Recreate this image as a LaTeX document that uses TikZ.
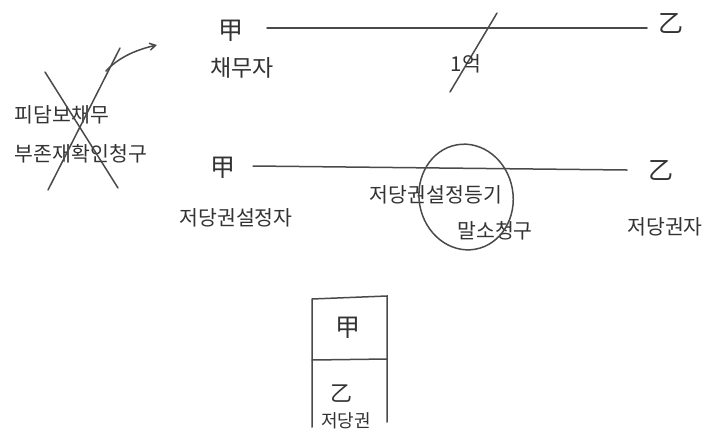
\documentclass[tikz,border=0pt]{standalone}
\usepackage{fontspec}
\setmainfont{Noto Sans CJK KR}
\usetikzlibrary{arrows.meta}
\definecolor{ink}{HTML}{333333}
\definecolor{pen}{HTML}{4A4A4A}
\tikzset{
  kor/.style={text=ink, inner sep=0pt, font=\fontsize{20.5}{22}\selectfont},
  han/.style={text=ink, inner sep=0pt, font=\fontsize{25}{27}\selectfont},
  stroke/.style={draw=pen, line width=1.5pt, line cap=round},
}
\begin{document}
\begin{tikzpicture}[x=1pt,y=-1pt]
\useasboundingbox (0,0) rectangle (717,437);
% top relation
\node[han] (gap1) at (231,31) {甲};
\node[kor,font=\fontsize{23}{24}\selectfont] (debtor) at (242,68) {채무자};
\node[han] (eul1) at (671,23) {乙};
\coordinate (l1s) at (267,28);
\coordinate (l1e) at (647,28);
\draw[stroke] (l1s) -- (l1e);
\coordinate (s1) at (497,13);
\coordinate (s2) at (450,92);
\draw[stroke] (s1) -- (s2);
\node[kor] (amt) at (466,64) {1억};
% crossed-out claim
\node[kor] (c1) at (62,115) {피담보채무};
\node[kor] (c2) at (81,154) {부존재확인청구};
\coordinate (x1a) at (45,72);
\coordinate (x1b) at (118,188);
\coordinate (x2a) at (48,190);
\coordinate (x2b) at (120,48);
\draw[stroke] (x1a) -- (x1b);
\draw[stroke] (x2a) -- (x2b);
\coordinate (ar1) at (106,71);
\coordinate (ar2) at (157,45);
\draw[stroke,-{Straight Barb[length=6pt,width=7pt]}] (ar1) .. controls (118,58) and (135,50) .. (ar2);
% lower relation
\node[han] (gap2) at (223,168) {甲};
\node[kor] (mortgagor) at (236,218) {저당권설정자};
\node[han] (eul2) at (661,170) {乙};
\node[kor] (mortgagee) at (665,227) {저당권자};
\coordinate (l2s) at (253,166);
\coordinate (l2e) at (627,170);
\draw[stroke] (l2s) -- (l2e);
\node[kor] (reg) at (436,195) {저당권설정등기};
\node[kor] (cancel) at (495,231) {말소청구};
\coordinate (ec) at (466,197);
\draw[stroke, rotate around={10:(ec)}] (ec) ellipse [x radius=47, y radius=53];
% box
\coordinate (b1) at (312,299);
\coordinate (b2) at (387,296);
\coordinate (b3) at (387,422);
\coordinate (b4) at (312,427);
\coordinate (m1) at (312,360);
\coordinate (m2) at (387,359);
\draw[stroke] (b4) -- (b1) -- (b2) -- (b3);
\draw[stroke] (m1) -- (m2);
\node[han] (bgap) at (348,328) {甲};
\node[han,font=\fontsize{22}{24}\selectfont] (beul) at (341,394) {乙};
\node[kor,font=\fontsize{18}{20}\selectfont] (bright) at (346,421) {저당권};
\end{tikzpicture}
\end{document}
